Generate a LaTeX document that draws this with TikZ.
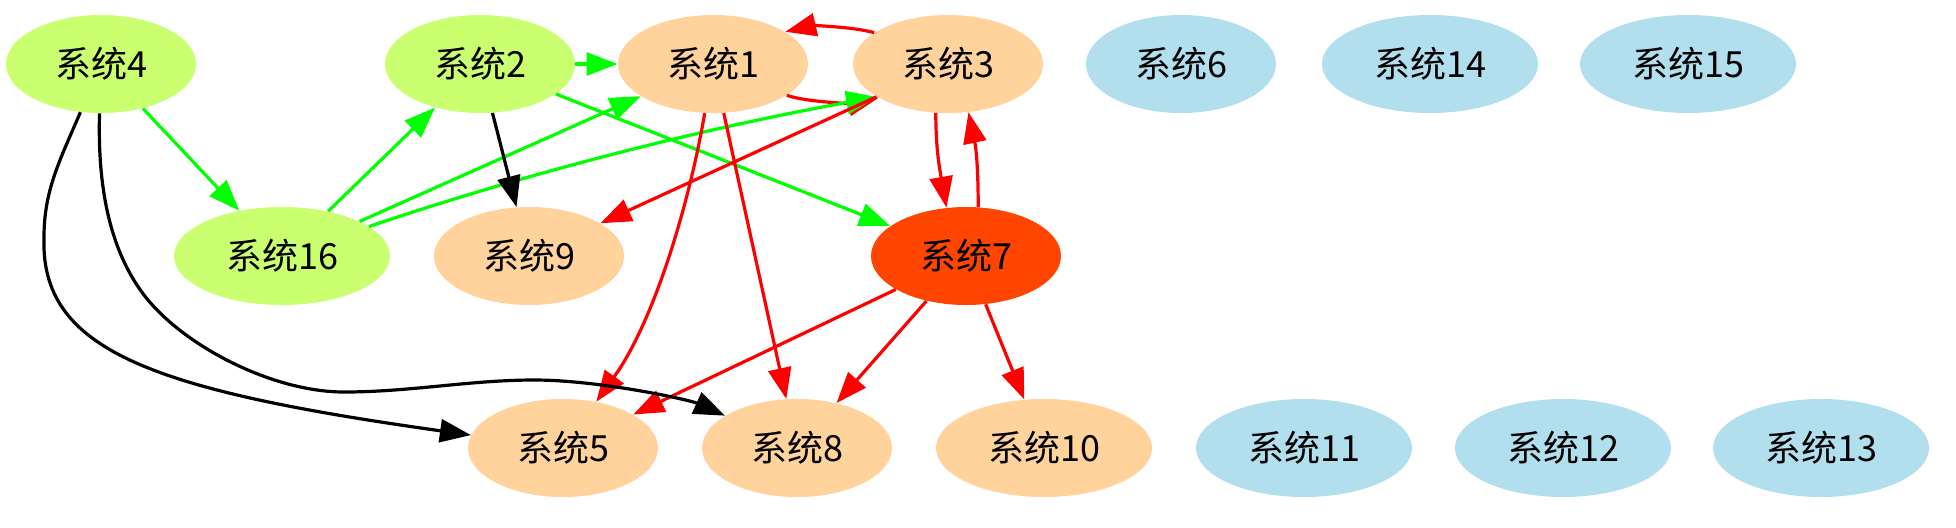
\documentclass[tikz,border=0pt]{standalone}
\usepackage{fontspec}
\newfontfamily\cjk{Noto Sans CJK SC}
\usetikzlibrary{arrows.meta,shapes.geometric}
\definecolor{ngreen}{HTML}{CAFF70}
\definecolor{npeach}{HTML}{FFD39B}
\definecolor{nblue}{HTML}{B2DFEE}
\definecolor{nred}{HTML}{FF4500}
\definecolor{egreen}{HTML}{00FF00}
\definecolor{ered}{HTML}{FF0000}
\begin{document}
\begin{tikzpicture}[x=0.5pt,y=0.5pt,
  sys/.style={ellipse, draw=none, inner sep=0pt, minimum width=95pt, minimum height=49pt,
    font=\cjk\fontsize{18pt}{20pt}\selectfont, text=black},
  wide/.style={sys, minimum width=108pt},
  gn/.style={fill=ngreen}, pn/.style={fill=npeach}, bn/.style={fill=nblue}, rn/.style={fill=nred},
  edge/.style={line width=1.6pt, -{Triangle[length=15.5pt,width=11.5pt]}},
  ge/.style={edge, draw=egreen},
  re/.style={edge, draw=ered},
  be/.style={edge, draw=black}]
\fill[white] (0,0) rectangle (1956,-527);
\useasboundingbox (0,0) rectangle (1956,-527);
% nodes
\node[sys,gn] (n4) at (101,-64) {系统4};
\node[sys,gn] (n2) at (480,-64) {系统2};
\node[sys,pn] (n1) at (713,-64) {系统1};
\node[sys,pn] (n3) at (948,-64) {系统3};
\node[sys,bn] (n6) at (1181,-64) {系统6};
\node[wide,bn] (n14) at (1430,-64) {系统14};
\node[wide,bn] (n15) at (1688,-64) {系统15};
\node[wide,gn] (n16) at (282,-256) {系统16};
\node[sys,pn] (n9) at (529,-256) {系统9};
\node[sys,rn] (n7) at (966,-256) {系统7};
\node[sys,pn] (n5) at (563,-448) {系统5};
\node[sys,pn] (n8) at (797,-448) {系统8};
\node[wide,pn] (n10) at (1044,-448) {系统10};
\node[wide,bn] (n11) at (1304,-448) {系统11};
\node[wide,bn] (n12) at (1563,-448) {系统12};
\node[wide,bn] (n13) at (1821,-448) {系统13};
% waypoints
\coordinate (a1) at (44,-237);
\coordinate (b1) at (148,-300);
\coordinate (b2) at (344,-392);
\coordinate (b3) at (534,-380);
% edges
\draw[ge] (n2) -- (n1);
\draw[re] (n3.157) .. controls (850,-26) and (810,-26) .. (n1.24);
\draw[re] (n1.-23) .. controls (810,-103) and (855,-103) .. (n3.206);
\draw[ge] (n4) -- (n16);
\draw[ge] (n16) -- (n2);
\draw[ge] (n16) -- (n1);
\draw[ge] (n16) .. controls (530,-172) and (705,-128) .. (n3.205);
\draw[be] (n2) -- (n9);
\draw[ge] (n2) -- (n7);
\draw[re] (n3) -- (n9);
\draw[re] (n3.256) to[out=-90,in=100] (n7.112);
\draw[re] (n7.76) to[out=90,in=-78] (n3.293);
\draw[re] (n1) .. controls (690,-200) and (655,-320) .. (n5);
\draw[re] (n1) -- (n8);
\draw[re] (n7) -- (n5);
\draw[re] (n7) -- (n8);
\draw[re] (n7) -- (n10);
\draw[be] (n4) .. controls (60,-160) and (44,-190) .. (a1)
  .. controls (40,-350) and (150,-390) .. (n5);
\draw[be] (n4) .. controls (97,-200) and (115,-260) .. (b1)
  .. controls (188,-348) and (274,-392) .. (b2)
  .. controls (410,-392) and (470,-380) .. (b3)
  .. controls (600,-380) and (690,-400) .. (n8);
\end{tikzpicture}
\end{document}
